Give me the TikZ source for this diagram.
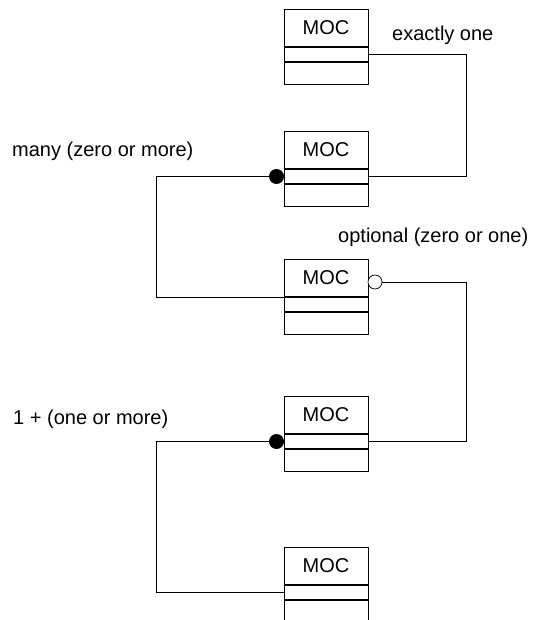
\documentclass[tikz,border=0pt]{standalone}
\usepackage{fontspec}
\setmainfont{Liberation Sans}
\usetikzlibrary{positioning,calc}
\tikzset{
  head/.style={draw, line width=0.8pt, minimum width=84pt, minimum height=38pt,
    inner sep=0pt, outer sep=0pt, anchor=north, font=\fontsize{20}{24}\selectfont},
  part/.style={draw, line width=0.8pt, minimum width=84pt, minimum height=15pt,
    inner sep=0pt, outer sep=0pt},
  rest/.style={part, minimum height=22pt},
  sep/.style={line width=1.8pt},
  link/.style={line width=0.8pt},
  note/.style={anchor=west, inner sep=0pt, font=\fontsize{20}{24}\selectfont},
  many/.style={circle, fill, inner sep=0pt, outer sep=0pt, minimum size=15pt},
  opt/.style={circle, draw, fill=white, line width=0.7pt, inner sep=0pt, outer sep=0pt, minimum size=14pt},
}

\begin{document}
\begin{tikzpicture}[x=1pt, y=1pt]
    \useasboundingbox (0,0) rectangle (539,-620);
    \clip (0,0) rectangle (539,-620);
    \foreach \n/\y in {a/9, b/131, c/259, d/396, e/547} {
      \node[head] (\n) at (326,-\y) {MOC};
      \node[part, below=0pt of \n] (\n-m) {};
      \node[rest, below=0pt of \n-m] (\n-r) {};
      \draw[sep] (\n.south west) -- (\n.south east);
      \draw[sep] (\n-m.south west) -- (\n-m.south east);
    }
    % exactly one
    \draw[link] (a-m.east) -- ++(98,0) |- (b-m.east);
    \node[note] (one) at (392,-35) {exactly one};
    % many
    \node[many, anchor=east] (bd) at (b-m.west) {};
    \draw[link] (bd.west) -- ++(-113,0) |- (c.south west);
    \node[note] (zm) at (12,-151) {many (zero or more)};
    % optional
    \node[opt, anchor=west] (co) at ($(c.east)+(0,-4)$) {};
    \draw[link] (co.east) -- ++(84,0) |- (d-m.east);
    \node[note] (zo) at (338,-237) {optional (zero or one)};
    % one or more
    \node[many, anchor=east] (dd) at (d-m.west) {};
    \draw[link] (dd.west) -- ++(-113,0) |- (e-m.west);
    \node[note] (om) at (13,-419) {1 + (one or more)};
\end{tikzpicture}
\end{document}
